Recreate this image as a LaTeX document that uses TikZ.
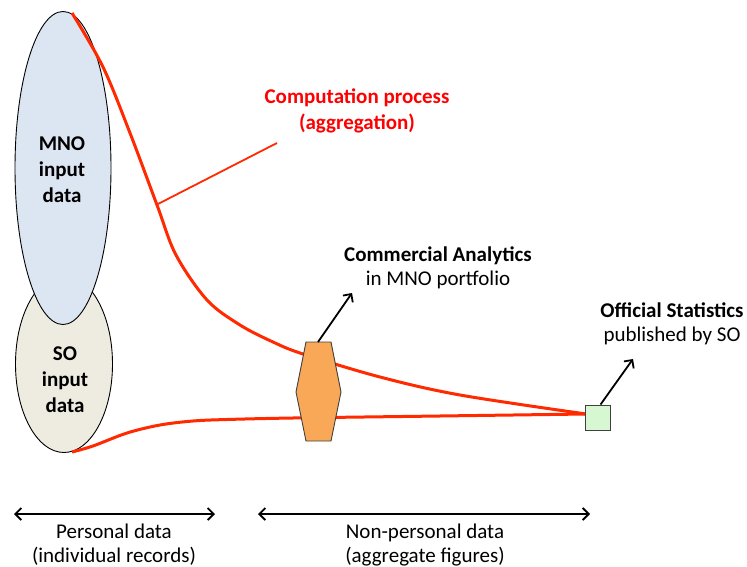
\documentclass[tikz,border=0pt]{standalone}
\usepackage{fontspec}
\setmainfont{Carlito}
\usetikzlibrary{shapes.geometric,arrows.meta}
\definecolor{mnofill}{HTML}{DCE6F2}
\definecolor{sofill}{HTML}{EEECE1}
\definecolor{flowred}{HTML}{FF2A00}
\definecolor{hexfill}{HTML}{F9A857}
\definecolor{osfill}{HTML}{D7F7D3}
\tikzset{
  blob/.style={ellipse, draw=black, line width=0.9pt, inner sep=0pt},
  blobtext/.style={align=center, inner sep=0pt, font=\fontsize{21}{26}\selectfont\bfseries},
  flow/.style={draw=flowred, line width=3pt},
  pointer/.style={draw=black, line width=1.8pt, -{Straight Barb[length=6pt,width=12pt]}},
  span/.style={draw=black, line width=1.8pt, {Straight Barb[length=6pt,width=12pt]}-{Straight Barb[length=6pt,width=12pt]}},
  label/.style={align=center, font=\fontsize{21}{24}\selectfont, inner sep=0pt},
}
\begin{document}
\begin{tikzpicture}[x=1pt, y=-1pt]
\useasboundingbox (0,0) rectangle (747,567);

% input data sets
\node[blob, fill=sofill, minimum width=97pt, minimum height=177pt] (so) at (64,364) {};
\node[blob, fill=mnofill, minimum width=96pt, minimum height=313pt] (mno) at (63,168) {};
\node[blobtext] (mnotxt) at (62,170) {MNO\\input\\data};
\node[blobtext] (sotxt) at (65,380) {SO\\input\\data};

% end points of the aggregation flows
\coordinate (mnotop) at (72,13);
\coordinate (sobot) at (72,452);
\coordinate (tip) at (586,414);

% aggregation flows
\draw[flow] plot[smooth, tension=0.55] coordinates {(mnotop) (103,67) (130,133) (157,205)
  (176,255) (207,300) (240,325) (273,342) (303,354) (380,377) (460,395) (tip)};
\draw[flow] plot[smooth, tension=0.55] coordinates {(sobot) (93,446) (127,433) (160,425)
  (193,421) (227,419.5) (293,418) (440,416) (tip)};

% computation process label
\node[label, text=red, font=\fontsize{21}{26}\selectfont\bfseries] (comp) at (357,111)
  {Computation process\\(aggregation)};
\coordinate (compfoot) at (277,143);
\coordinate (comphit) at (158,204);
\draw[draw=flowred, line width=1.8pt] (compfoot) -- (comphit);

% commercial analytics product
\draw[draw=black!75, line width=0.9pt, fill=hexfill]
  (306,342) -- (331,342) -- (341,392) -- (331,441) -- (306,441) -- (296,392) -- cycle;
\coordinate (hextop) at (318,342);
\node[label] (ca) at (438,268) {\textbf{Commercial Analytics}\\in MNO portfolio};
\coordinate (caend) at (352,293);
\draw[pointer] (hextop) -- (caend);

% official statistics product
\node[draw=black!75, line width=0.9pt, fill=osfill, minimum size=25pt, inner sep=0pt] (os) at (597.5,417.5) {};
\node[label] (ost) at (672,324) {\textbf{Official Statistics}\\published by SO};
\coordinate (osend) at (633,359);
\draw[pointer] ([xshift=3pt]os.north) -- (osend);

% data categories
\coordinate (pl) at (14,514);
\coordinate (pr) at (215,514);
\coordinate (nl) at (258,514);
\coordinate (nr) at (590,514);
\draw[span] (pl) -- (pr);
\draw[span] (nl) -- (nr);
\node[label] (pers) at (114,545) {Personal data\\(individual records)};
\node[label] (npers) at (425,545) {Non-personal data\\(aggregate figures)};
\end{tikzpicture}
\end{document}
